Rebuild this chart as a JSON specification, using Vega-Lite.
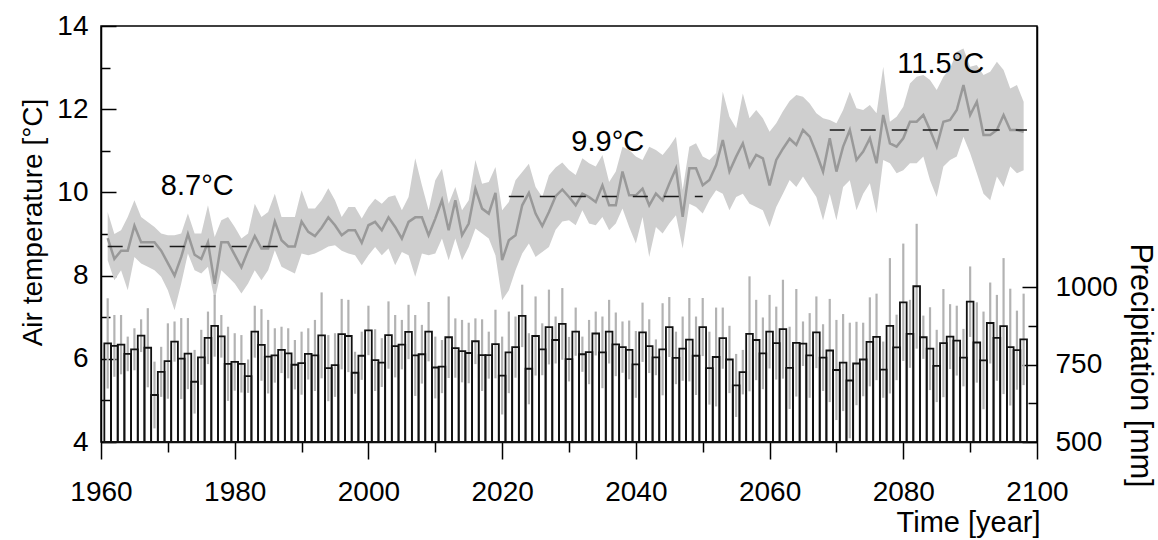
{
  "$schema": "https://vega.github.io/schema/vega-lite/v6.json",
  "width": 936,
  "height": 416,
  "autosize": {"type": "none"},
  "padding": {"left": 101, "top": 26, "right": 121, "bottom": 98},
  "background": "white",
  "config": {
    "view": {"stroke": "#000", "strokeWidth": 1.5},
    "scale": {"continuousPadding": 0},
    "axis": {
      "grid": false,
      "domainColor": "#000",
      "domainWidth": 1.5,
      "tickColor": "#000",
      "tickWidth": 1.5,
      "labelColor": "#000",
      "titleColor": "#000",
      "labelFont": "Liberation Sans",
      "titleFont": "Liberation Sans",
      "labelFontSize": 28,
      "titleFontSize": 28,
      "titleFontWeight": "normal",
      "labelFlush": false,
      "labelOverlap": false
    },
    "text": {"font": "Liberation Sans"}
  },
  "datasets": {
    "temp": [
      {"year":1961,"t":8.9,"lo":8.37,"hi":9.53},{"year":1962,"t":8.4,"lo":7.89,"hi":9.0},{"year":1963,"t":8.6,"lo":8.13,"hi":9.09},{"year":1964,"t":8.6,"lo":7.65,"hi":9.41},{"year":1965,"t":9.2,"lo":8.45,"hi":9.81},{"year":1966,"t":8.8,"lo":8.29,"hi":9.41},{"year":1967,"t":8.8,"lo":8.21,"hi":9.29},{"year":1968,"t":8.8,"lo":8.13,"hi":9.17},{"year":1969,"t":8.6,"lo":7.97,"hi":9.01},{"year":1970,"t":8.3,"lo":7.65,"hi":8.97},
      {"year":1971,"t":8.0,"lo":7.17,"hi":8.97},{"year":1972,"t":8.45,"lo":7.81,"hi":9.01},{"year":1973,"t":9.0,"lo":8.53,"hi":9.49},{"year":1974,"t":8.5,"lo":8.13,"hi":9.01},{"year":1975,"t":8.4,"lo":8.05,"hi":9.01},{"year":1976,"t":8.8,"lo":8.21,"hi":9.69},{"year":1977,"t":7.8,"lo":7.41,"hi":8.93},{"year":1978,"t":8.8,"lo":8.13,"hi":9.33},{"year":1979,"t":8.8,"lo":7.97,"hi":9.41},{"year":1980,"t":8.5,"lo":7.81,"hi":9.17},
      {"year":1981,"t":8.2,"lo":7.57,"hi":8.89},{"year":1982,"t":8.6,"lo":7.81,"hi":9.01},{"year":1983,"t":8.95,"lo":8.13,"hi":9.73},{"year":1984,"t":8.65,"lo":7.89,"hi":9.41},{"year":1985,"t":8.65,"lo":8.13,"hi":9.53},{"year":1986,"t":9.3,"lo":8.61,"hi":9.97},{"year":1987,"t":8.85,"lo":8.21,"hi":9.41},{"year":1988,"t":8.7,"lo":8.13,"hi":9.41},{"year":1989,"t":8.7,"lo":8.05,"hi":9.41},{"year":1990,"t":9.3,"lo":8.53,"hi":10.05},
      {"year":1991,"t":9.05,"lo":8.49,"hi":9.61},{"year":1992,"t":8.95,"lo":8.53,"hi":9.61},{"year":1993,"t":9.15,"lo":8.61,"hi":9.81},{"year":1994,"t":9.4,"lo":8.7,"hi":10.1},{"year":1995,"t":9.21,"lo":8.73,"hi":9.81},{"year":1996,"t":8.97,"lo":8.6,"hi":9.41},{"year":1997,"t":9.09,"lo":8.53,"hi":9.65},{"year":1998,"t":9.09,"lo":8.49,"hi":9.65},{"year":1999,"t":8.79,"lo":8.25,"hi":9.37},{"year":2000,"t":9.21,"lo":8.49,"hi":9.65},
      {"year":2001,"t":9.29,"lo":8.69,"hi":9.85},{"year":2002,"t":9.09,"lo":8.49,"hi":9.73},{"year":2003,"t":9.4,"lo":8.65,"hi":9.89},{"year":2004,"t":9.17,"lo":8.25,"hi":9.93},{"year":2005,"t":8.89,"lo":8.57,"hi":9.57},{"year":2006,"t":9.29,"lo":8.49,"hi":9.89},{"year":2007,"t":9.4,"lo":7.97,"hi":10.82},{"year":2008,"t":9.4,"lo":8.53,"hi":10.17},{"year":2009,"t":8.97,"lo":8.49,"hi":9.57},{"year":2010,"t":9.37,"lo":8.53,"hi":10.29},
      {"year":2011,"t":9.81,"lo":8.89,"hi":10.57},{"year":2012,"t":9.09,"lo":8.37,"hi":9.73},{"year":2013,"t":9.81,"lo":8.89,"hi":10.13},{"year":2014,"t":8.97,"lo":8.37,"hi":9.57},{"year":2015,"t":9.25,"lo":8.69,"hi":9.81},{"year":2016,"t":10.09,"lo":9.13,"hi":10.78},{"year":2017,"t":9.61,"lo":9.01,"hi":10.21},{"year":2018,"t":9.49,"lo":8.89,"hi":10.25},{"year":2019,"t":9.99,"lo":8.49,"hi":10.61},{"year":2020,"t":8.37,"lo":7.41,"hi":9.57},
      {"year":2021,"t":8.85,"lo":7.65,"hi":9.77},{"year":2022,"t":8.97,"lo":8.13,"hi":10.29},{"year":2023,"t":9.69,"lo":8.53,"hi":10.49},{"year":2024,"t":9.99,"lo":8.77,"hi":10.69},{"year":2025,"t":9.49,"lo":8.45,"hi":10.13},{"year":2026,"t":9.19,"lo":8.57,"hi":9.89},{"year":2027,"t":9.53,"lo":8.69,"hi":10.41},{"year":2028,"t":9.91,"lo":9.1,"hi":10.6},{"year":2029,"t":10.07,"lo":9.3,"hi":10.72},{"year":2030,"t":9.89,"lo":9.33,"hi":10.54},
      {"year":2031,"t":9.69,"lo":9.21,"hi":10.42},{"year":2032,"t":9.97,"lo":9.57,"hi":10.82},{"year":2033,"t":9.89,"lo":9.25,"hi":10.7},{"year":2034,"t":9.77,"lo":9.21,"hi":10.62},{"year":2035,"t":10.17,"lo":9.41,"hi":10.9},{"year":2036,"t":9.69,"lo":9.09,"hi":10.25},{"year":2037,"t":9.69,"lo":9.25,"hi":10.5},{"year":2038,"t":10.5,"lo":9.61,"hi":11.1},{"year":2039,"t":9.93,"lo":9.17,"hi":11.02},{"year":2040,"t":9.93,"lo":8.77,"hi":10.86},
      {"year":2041,"t":10.09,"lo":9.41,"hi":10.78},{"year":2042,"t":9.69,"lo":8.45,"hi":11.1},{"year":2043,"t":9.97,"lo":9.17,"hi":11.02},{"year":2044,"t":9.81,"lo":9.01,"hi":10.9},{"year":2045,"t":10.21,"lo":9.25,"hi":11.1},{"year":2046,"t":10.58,"lo":9.45,"hi":11.34},{"year":2047,"t":9.41,"lo":8.65,"hi":10.06},{"year":2048,"t":10.58,"lo":9.73,"hi":11.1},{"year":2049,"t":10.58,"lo":9.65,"hi":11.18},{"year":2050,"t":10.17,"lo":9.49,"hi":10.86},
      {"year":2051,"t":10.3,"lo":9.81,"hi":10.78},{"year":2052,"t":10.65,"lo":10.05,"hi":10.95},{"year":2053,"t":11.26,"lo":9.97,"hi":12.42},{"year":2054,"t":10.5,"lo":9.57,"hi":11.82},{"year":2055,"t":10.86,"lo":9.89,"hi":11.54},{"year":2056,"t":11.18,"lo":9.97,"hi":12.38},{"year":2057,"t":10.62,"lo":9.73,"hi":11.78},{"year":2058,"t":10.9,"lo":9.65,"hi":11.98},{"year":2059,"t":10.82,"lo":9.57,"hi":11.78},{"year":2060,"t":10.17,"lo":9.17,"hi":11.46},
      {"year":2061,"t":10.78,"lo":9.65,"hi":11.66},{"year":2062,"t":11.05,"lo":9.97,"hi":11.95},{"year":2063,"t":11.29,"lo":10.3,"hi":12.2},{"year":2064,"t":11.14,"lo":10.13,"hi":12.34},{"year":2065,"t":11.5,"lo":10.38,"hi":12.3},{"year":2066,"t":11.34,"lo":10.13,"hi":12.14},{"year":2067,"t":10.94,"lo":9.89,"hi":11.9},{"year":2068,"t":10.5,"lo":9.33,"hi":11.78},{"year":2069,"t":11.3,"lo":9.97,"hi":11.74},{"year":2070,"t":10.5,"lo":9.33,"hi":11.66},
      {"year":2071,"t":11.1,"lo":10.13,"hi":11.98},{"year":2072,"t":11.5,"lo":10.29,"hi":12.42},{"year":2073,"t":10.78,"lo":9.57,"hi":12.02},{"year":2074,"t":10.98,"lo":9.97,"hi":11.98},{"year":2075,"t":11.3,"lo":10.22,"hi":12.1},{"year":2076,"t":10.7,"lo":9.49,"hi":11.9},{"year":2077,"t":11.86,"lo":10.78,"hi":13.02},{"year":2078,"t":11.18,"lo":10.7,"hi":11.7},{"year":2079,"t":11.1,"lo":10.46,"hi":11.82},{"year":2080,"t":11.3,"lo":10.53,"hi":12.06},
      {"year":2081,"t":11.7,"lo":10.7,"hi":12.62},{"year":2082,"t":11.7,"lo":10.7,"hi":12.78},{"year":2083,"t":11.86,"lo":10.86,"hi":12.82},{"year":2084,"t":11.5,"lo":10.29,"hi":12.7},{"year":2085,"t":11.1,"lo":9.89,"hi":12.46},{"year":2086,"t":11.7,"lo":10.62,"hi":12.78},{"year":2087,"t":11.74,"lo":10.78,"hi":12.98},{"year":2088,"t":11.98,"lo":10.86,"hi":13.38},{"year":2089,"t":12.58,"lo":11.34,"hi":13.46},{"year":2090,"t":11.86,"lo":10.94,"hi":13.02},
      {"year":2091,"t":12.18,"lo":10.46,"hi":13.06},{"year":2092,"t":11.38,"lo":9.97,"hi":12.82},{"year":2093,"t":11.38,"lo":9.81,"hi":12.9},{"year":2094,"t":11.5,"lo":10.38,"hi":13.14},{"year":2095,"t":11.86,"lo":10.13,"hi":12.94},{"year":2096,"t":11.5,"lo":10.62,"hi":12.5},{"year":2097,"t":11.5,"lo":10.46,"hi":12.58},{"year":2098,"t":11.46,"lo":10.53,"hi":12.18}
    ],
    "precip": [
      {"year":1961,"p":819,"lo":673,"hi":965},{"year":1962,"p":811,"lo":711,"hi":911},{"year":1963,"p":815,"lo":719,"hi":911},{"year":1964,"p":785,"lo":729,"hi":841},{"year":1965,"p":800,"lo":732,"hi":868},{"year":1966,"p":844,"lo":791,"hi":897},{"year":1967,"p":805,"lo":677,"hi":933},{"year":1968,"p":652,"lo":544,"hi":760},{"year":1969,"p":727,"lo":646,"hi":808},{"year":1970,"p":762,"lo":640,"hi":884},
      {"year":1971,"p":825,"lo":760,"hi":890},{"year":1972,"p":770,"lo":639,"hi":901},{"year":1973,"p":786,"lo":671,"hi":901},{"year":1974,"p":695,"lo":592,"hi":798},{"year":1975,"p":774,"lo":685,"hi":863},{"year":1976,"p":837,"lo":752,"hi":922},{"year":1977,"p":876,"lo":776,"hi":976},{"year":1978,"p":842,"lo":773,"hi":911},{"year":1979,"p":753,"lo":633,"hi":873},{"year":1980,"p":759,"lo":666,"hi":852},
      {"year":1981,"p":753,"lo":660,"hi":846},{"year":1982,"p":713,"lo":659,"hi":767},{"year":1983,"p":857,"lo":773,"hi":941},{"year":1984,"p":814,"lo":698,"hi":930},{"year":1985,"p":776,"lo":657,"hi":895},{"year":1986,"p":780,"lo":692,"hi":868},{"year":1987,"p":798,"lo":723,"hi":873},{"year":1988,"p":787,"lo":706,"hi":868},{"year":1989,"p":750,"lo":670,"hi":830},{"year":1990,"p":755,"lo":653,"hi":857},
      {"year":1991,"p":785,"lo":702,"hi":868},{"year":1992,"p":780,"lo":665,"hi":895},{"year":1993,"p":845,"lo":706,"hi":984},{"year":1994,"p":739,"lo":632,"hi":846},{"year":1995,"p":749,"lo":646,"hi":852},{"year":1996,"p":849,"lo":735,"hi":963},{"year":1997,"p":843,"lo":726,"hi":960},{"year":1998,"p":724,"lo":656,"hi":792},{"year":1999,"p":779,"lo":701,"hi":857},{"year":2000,"p":861,"lo":781,"hi":941},
      {"year":2001,"p":765,"lo":665,"hi":865},{"year":2002,"p":757,"lo":678,"hi":836},{"year":2003,"p":846,"lo":737,"hi":955},{"year":2004,"p":810,"lo":709,"hi":911},{"year":2005,"p":815,"lo":735,"hi":895},{"year":2006,"p":856,"lo":768,"hi":944},{"year":2007,"p":780,"lo":649,"hi":911},{"year":2008,"p":784,"lo":689,"hi":879},{"year":2009,"p":857,"lo":761,"hi":953},{"year":2010,"p":741,"lo":641,"hi":841},
      {"year":2011,"p":744,"lo":658,"hi":830},{"year":2012,"p":839,"lo":707,"hi":971},{"year":2013,"p":804,"lo":708,"hi":900},{"year":2014,"p":794,"lo":693,"hi":895},{"year":2015,"p":788,"lo":690,"hi":886},{"year":2016,"p":826,"lo":752,"hi":900},{"year":2017,"p":781,"lo":665,"hi":897},{"year":2018,"p":781,"lo":705,"hi":857},{"year":2019,"p":817,"lo":706,"hi":928},{"year":2020,"p":715,"lo":589,"hi":841},
      {"year":2021,"p":790,"lo":658,"hi":922},{"year":2022,"p":807,"lo":708,"hi":906},{"year":2023,"p":908,"lo":807,"hi":1009},{"year":2024,"p":737,"lo":622,"hi":852},{"year":2025,"p":843,"lo":715,"hi":971},{"year":2026,"p":800,"lo":716,"hi":884},{"year":2027,"p":872,"lo":751,"hi":993},{"year":2028,"p":830,"lo":754,"hi":906},{"year":2029,"p":882,"lo":766,"hi":998},{"year":2030,"p":768,"lo":696,"hi":840},
      {"year":2031,"p":857,"lo":779,"hi":935},{"year":2032,"p":784,"lo":727,"hi":841},{"year":2033,"p":791,"lo":687,"hi":895},{"year":2034,"p":851,"lo":780,"hi":922},{"year":2035,"p":790,"lo":674,"hi":906},{"year":2036,"p":857,"lo":754,"hi":960},{"year":2037,"p":816,"lo":713,"hi":919},{"year":2038,"p":807,"lo":724,"hi":890},{"year":2039,"p":798,"lo":703,"hi":893},{"year":2040,"p":751,"lo":643,"hi":859},
      {"year":2041,"p":855,"lo":759,"hi":951},{"year":2042,"p":810,"lo":723,"hi":897},{"year":2043,"p":774,"lo":716,"hi":832},{"year":2044,"p":800,"lo":651,"hi":949},{"year":2045,"p":872,"lo":775,"hi":969},{"year":2046,"p":772,"lo":687,"hi":857},{"year":2047,"p":802,"lo":698,"hi":906},{"year":2048,"p":831,"lo":696,"hi":966},{"year":2049,"p":779,"lo":652,"hi":906},{"year":2050,"p":872,"lo":778,"hi":966},
      {"year":2051,"p":739,"lo":621,"hi":857},{"year":2052,"p":775,"lo":615,"hi":935},{"year":2053,"p":836,"lo":737,"hi":935},{"year":2054,"p":767,"lo":658,"hi":876},{"year":2055,"p":683,"lo":581,"hi":785},{"year":2056,"p":726,"lo":654,"hi":798},{"year":2057,"p":850,"lo":664,"hi":1036},{"year":2058,"p":830,"lo":700,"hi":960},{"year":2059,"p":787,"lo":671,"hi":903},{"year":2060,"p":857,"lo":738,"hi":976},
      {"year":2061,"p":820,"lo":702,"hi":938},{"year":2062,"p":865,"lo":705,"hi":1025},{"year":2063,"p":740,"lo":607,"hi":873},{"year":2064,"p":821,"lo":647,"hi":995},{"year":2065,"p":818,"lo":746,"hi":890},{"year":2066,"p":780,"lo":643,"hi":917},{"year":2067,"p":855,"lo":739,"hi":971},{"year":2068,"p":773,"lo":665,"hi":881},{"year":2069,"p":796,"lo":629,"hi":963},{"year":2070,"p":733,"lo":571,"hi":895},
      {"year":2071,"p":757,"lo":600,"hi":914},{"year":2072,"p":699,"lo":512,"hi":886},{"year":2073,"p":754,"lo":619,"hi":889},{"year":2074,"p":767,"lo":648,"hi":886},{"year":2075,"p":824,"lo":680,"hi":968},{"year":2076,"p":840,"lo":700,"hi":980},{"year":2077,"p":734,"lo":643,"hi":825},{"year":2078,"p":876,"lo":657,"hi":1095},{"year":2079,"p":806,"lo":700,"hi":912},{"year":2080,"p":952,"lo":762,"hi":1142},
      {"year":2081,"p":850,"lo":740,"hi":960},{"year":2082,"p":1004,"lo":802,"hi":1206},{"year":2083,"p":839,"lo":769,"hi":909},{"year":2084,"p":802,"lo":668,"hi":936},{"year":2085,"p":746,"lo":629,"hi":863},{"year":2086,"p":820,"lo":645,"hi":995},{"year":2087,"p":841,"lo":736,"hi":946},{"year":2088,"p":828,"lo":715,"hi":941},{"year":2089,"p":773,"lo":680,"hi":866},{"year":2090,"p":954,"lo":840,"hi":1068},
      {"year":2091,"p":822,"lo":692,"hi":952},{"year":2092,"p":764,"lo":606,"hi":922},{"year":2093,"p":885,"lo":754,"hi":1016},{"year":2094,"p":837,"lo":698,"hi":976},{"year":2095,"p":875,"lo":655,"hi":1095},{"year":2096,"p":807,"lo":618,"hi":996},{"year":2097,"p":797,"lo":669,"hi":925},{"year":2098,"p":832,"lo":684,"hi":980}
    ],
    "means": [
      {"start":1961,"end":1987,"t":8.7,"label":"8.7°C","lyear":1974.4,"ltemp":10.15},
      {"start":2021,"end":2050,"t":9.9,"label":"9.9°C","lyear":2035.8,"ltemp":11.2},
      {"start":2069,"end":2098.5,"t":11.5,"label":"11.5°C","lyear":2085.6,"ltemp":13.08}
    ]
  },
  "resolve": {"scale": {"y": "independent"}, "axis": {"x": "independent"}},
  "layer": [
    {
      "data": {"name": "temp"},
      "mark": {"type": "area", "color": "#cfcfcf", "opacity": 1},
      "encoding": {
        "x": {"field": "year", "type": "quantitative", "scale": {"domain": [1960, 2100], "nice": false, "zero": false, "padding": 0}, "axis": null},
        "y": {"field": "lo", "type": "quantitative", "scale": {"domain": [4, 14], "nice": false, "zero": false},
          "axis": {"orient": "left", "values": [4, 6, 8, 10, 12, 14], "format": "d", "tickSize": -15, "labelPadding": 28,
            "title": "Air temperature [°C]", "titleAngle": 270, "titleAlign": "center", "titleBaseline": "alphabetic", "titleX": -60, "titleY": 196}},
        "y2": {"field": "hi"}
      }
    },
    {
      "data": {"name": "temp"},
      "mark": {"type": "line", "color": "#999999", "strokeWidth": 2.5},
      "encoding": {
        "x": {"field": "year", "type": "quantitative", "scale": {"domain": [1960, 2100], "nice": false, "zero": false, "padding": 0}, "axis": null},
        "y": {"field": "t", "type": "quantitative", "scale": {"domain": [4, 14], "nice": false, "zero": false},
          "axis": {"orient": "left", "values": [5, 7, 9, 11, 13], "tickSize": -9, "labels": false, "domain": false, "title": null}}
      }
    },
    {
      "data": {"name": "means"},
      "mark": {"type": "rule", "color": "#1a1a1a", "strokeWidth": 1.5, "strokeDash": [15, 16]},
      "encoding": {
        "x": {"field": "start", "type": "quantitative", "scale": {"domain": [1960, 2100], "nice": false, "zero": false, "padding": 0}, "axis": null},
        "x2": {"field": "end"},
        "y": {"field": "t", "type": "quantitative", "scale": {"domain": [4, 14], "nice": false, "zero": false}, "axis": null}
      }
    },
    {
      "data": {"name": "precip"},
      "mark": {"type": "rule", "color": "#b3b3b3", "strokeWidth": 2.2},
      "encoding": {
        "x": {"field": "year", "type": "quantitative", "scale": {"domain": [1960, 2100], "nice": false, "zero": false, "padding": 0},
          "axis": {"orient": "bottom", "values": [1960, 1980, 2000, 2020, 2040, 2060, 2080, 2100], "format": "d", "tickSize": 17, "labelPadding": 19,
            "title": "Time [year]", "titleFontSize": 29, "titleAlign": "right", "titleBaseline": "alphabetic", "titleX": 939, "titleY": 89}},
        "y": {"field": "lo", "type": "quantitative", "scale": {"domain": [500, 1846], "nice": false, "zero": false, "padding": 0},
          "axis": {"orient": "right", "values": [500, 750, 1000], "format": "d", "tickSize": -15, "labelPadding": 33,
            "title": "Precipitation [mm]", "titleFontSize": 30.5, "titleAngle": 90, "titleAlign": "center", "titleBaseline": "alphabetic", "titleX": 93, "titleY": 339}},
        "y2": {"field": "hi"}
      }
    },
    {
      "data": {"name": "precip"},
      "mark": {"type": "bar", "width": 6.686, "fill": "#ffffff", "fillOpacity": 0, "stroke": "#111111", "strokeWidth": 1.8},
      "encoding": {
        "x": {"field": "year", "type": "quantitative", "scale": {"domain": [1960, 2100], "nice": false, "zero": false, "padding": 0},
          "axis": {"orient": "bottom", "values": [1970, 1990, 2010, 2030, 2050, 2070, 2090], "tickSize": 10, "labels": false, "domain": false, "title": null}},
        "y": {"field": "p", "type": "quantitative", "scale": {"domain": [500, 1846], "nice": false, "zero": false, "padding": 0},
          "axis": {"orient": "right", "values": [625, 875], "tickSize": -9, "labels": false, "domain": false, "title": null}},
        "y2": {"datum": 500}
      }
    },
    {
      "data": {"name": "means"},
      "mark": {"type": "text", "fontSize": 29, "font": "Liberation Sans", "color": "#000", "align": "center", "baseline": "middle"},
      "encoding": {
        "x": {"field": "lyear", "type": "quantitative", "scale": {"domain": [1960, 2100], "nice": false, "zero": false, "padding": 0}, "axis": null},
        "y": {"field": "ltemp", "type": "quantitative", "scale": {"domain": [4, 14], "nice": false, "zero": false}, "axis": null},
        "text": {"field": "label"}
      }
    }
  ]
}
